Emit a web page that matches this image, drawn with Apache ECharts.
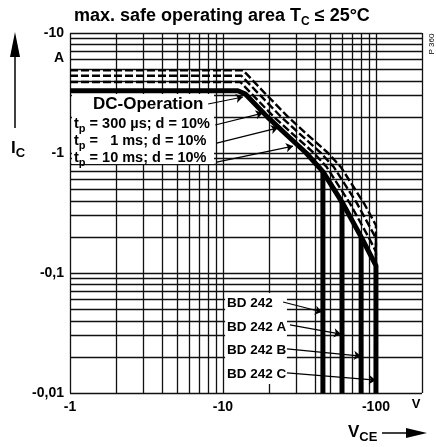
<!DOCTYPE html>
<html><head><meta charset="utf-8">
<script src="https://cdn.jsdelivr.net/npm/echarts@6/dist/echarts.min.js"></script>
<style>html,body{margin:0;padding:0;background:#fff}#c{width:436px;height:447px}</style>
</head><body><div id="c"></div>
<script>
// ---- axis ticks / labels ----
const xTickLabels = {0: '-1', 1: '-10', 2: '-100'};
const yTickLabels = {1: '-10', 0: '-1', '-1': '-0,1', '-2': '-0,01'};
// ---- grid lines (log paper) ----
const xGrid = [1,2,3,4,5,6,7,8,9,10,20,30,40,50,60,70,80,90,100,200];
const yGrid = [0.01,0.02,0.03,0.04,0.05,0.06,0.07,0.08,0.09,0.1,0.2,0.3,0.4,0.5,0.6,0.7,0.8,0.9,1,2,3,4,5,6,7,8,9,10];
// ---- DC operation (thick solid), ends at BD242C limit ----
const dcV = [1, 12.5, 14, 19.5, 26, 35, 45, 60, 80, 100, 100];
const dcI = [3.3, 3.3, 3.1, 2.0, 1.42, 1.0, 0.70, 0.39, 0.2, 0.115, 0.01];
// ---- pulse operation (dashed) ----
const p300V = [1, 13.5, 18.5, 26.6, 35.9, 48.6, 59.1, 83.6, 100, 100];
const p300I = [4.9, 4.9, 3.22, 2.0, 1.41, 1.0, 0.76, 0.38, 0.25, 0.115];
const p1msV = [1, 13.2, 16.7, 24, 32.4, 43.7, 53.2, 75.2, 100, 100];
const p1msI = [4.4, 4.4, 3.22, 2.0, 1.41, 1.0, 0.76, 0.38, 0.195, 0.115];
const p10msV = [1, 13, 15, 21.5, 29.1, 39.3, 47.8, 67.6, 91.2, 100, 100];
const p10msI = [3.9, 3.9, 3.22, 2.0, 1.41, 1.0, 0.76, 0.38, 0.19, 0.15, 0.115];
// ---- VCEO limits of the types (vertical lines) ----
const typeNames = ['BD 242', 'BD 242 A', 'BD 242 B', 'BD 242 C'];
const typeV = [45, 60, 80];
const typeTopI = [0.70, 0.39, 0.2];
const typeBottomI = 0.01;
// ---- legend labels and arrow anchors (data space) ----
const legendNames = ['DC-Operation', 't_p = 300 µs; d = 10%', 't_p =   1 ms; d = 10%', 't_p = 10 ms; d = 10%'];
const legendArrowFrom = [[8.0, 2.56], [8.9, 1.71], [9.1, 1.21], [9.1, 0.84]];
const legendArrowTo = [[13.5, 2.93], [18.2, 2.15], [22.9, 1.62], [28.7, 1.14]];
const typeArrowFrom = [[24.7, 0.0573], [27.4, 0.0369], [26.2, 0.0233], [26.2, 0.0147]];
const typeArrowTo = [[44.4, 0.0473], [59.0, 0.031], [79.8, 0.0203], [100, 0.0128]];
// ---- white label areas (data space corners) ----
const labelAreas = [[[1.03, 3.1], [8.74, 0.81]], [[10.33, 0.0681], [26.2, 0.0119]]];

const FONT = "'Liberation Sans', Arial, sans-serif";
const zip = (a, b) => a.map((v, i) => [v, b[i]]);

const chart = echarts.init(document.getElementById('c'), null, {renderer: 'canvas'});

const series = [];
// grid lines
series.push({
  type: 'line', data: [], z: 1, silent: true,
  markLine: {
    z: 1,
    silent: true, symbol: ['none', 'none'], animation: false,
    label: {show: false},
    lineStyle: {color: '#111', width: 1.3, type: 'solid'},
    emphasis: {disabled: true},
    data: xGrid.map(v => ({xAxis: v})).concat(yGrid.map(v => ({yAxis: v})))
  }
});
// white areas behind the labels
series.push({
  type: 'line', data: [], z: 3, silent: true,
  markArea: {
    z: 3,
    silent: true, animation: false,
    itemStyle: {color: '#fff', opacity: 1, borderWidth: 0},
    label: {show: false},
    emphasis: {disabled: true},
    data: labelAreas.map(a => [{coord: a[0]}, {coord: a[1]}])
  }
});
const dashStyle = {color: '#000', width: 2.4, type: [8, 3], join: 'round'};
[[p300V, p300I], [p1msV, p1msI], [p10msV, p10msI]].forEach(([v, i]) => {
  series.push({type: 'line', data: zip(v, i), showSymbol: false, z: 5, silent: true,
    lineStyle: dashStyle});
});
series.push({type: 'line', data: zip(dcV, dcI), showSymbol: false, z: 6, silent: true,
  lineStyle: {color: '#000', width: 5, join: 'round', cap: 'butt'}});
typeV.forEach((v, k) => {
  series.push({type: 'line', data: [[v, typeTopI[k]], [v, typeBottomI]], showSymbol: false, z: 6, silent: true,
    lineStyle: {color: '#000', width: 5}});
});
// annotation arrows
series.push({
  type: 'line', data: [], z: 7, silent: true,
  markLine: {
    z: 7,
    silent: true, animation: false, symbol: ['none', 'arrow'], symbolSize: 7,
    label: {show: false},
    lineStyle: {color: '#000', width: 1.2, type: 'solid'},
    emphasis: {disabled: true},
    data: legendArrowFrom.map((p, k) => [{coord: p}, {coord: legendArrowTo[k]}])
      .concat(typeArrowFrom.map((p, k) => [{coord: p}, {coord: typeArrowTo[k]}]))
  }
});

function subText(parts, size, subSize, x, y, extra) {
  let t = '';
  parts.forEach(p => { t += p[1] ? '{s|' + p[0] + '}' : '{a|' + p[0] + '}'; });
  return Object.assign({
    type: 'text', x: x, y: y, z: 20,
    style: {
      text: t, fill: '#000', font: 'bold ' + size + 'px ' + FONT, verticalAlign: 'middle',
      rich: {
        a: {fontSize: size, fontFamily: FONT, fontWeight: 'bold', lineHeight: size + 6, verticalAlign: 'middle', fill: '#000'},
        s: {fontSize: subSize, fontFamily: FONT, fontWeight: 'bold', lineHeight: subSize, verticalAlign: 'bottom', fill: '#000'}
      }
    }
  }, extra || {});
}

const graphics = [
  subText([['max. safe operating area T'], ['C', 1], [' ≤ 25°C']], 18, 12, 74, 16),
  subText([['I'], ['C', 1]], 17, 13, 11, 148),
  subText([['V'], ['CE', 1]], 17, 13, 348, 432),
  {type: 'text', x: 64, y: 58, z: 20, style: {text: 'A', font: 'bold 14px ' + FONT, fill: '#000', align: 'right', verticalAlign: 'middle'}},
  {type: 'text', x: 416, y: 404, z: 20, style: {text: 'V', font: 'bold 13px ' + FONT, fill: '#000', align: 'center', verticalAlign: 'middle'}},
  {type: 'text', x: 432, y: 44, z: 20, rotation: Math.PI / 2, style: {text: 'P 360', font: '8px ' + FONT, fill: '#000', align: 'center', verticalAlign: 'middle'}},
  // axis arrows
  {type: 'line', shape: {x1: 15, y1: 55, x2: 15, y2: 128}, style: {stroke: '#000', lineWidth: 1.5}, z: 20},
  {type: 'polygon', shape: {points: [[15, 32], [10, 57], [20, 57]]}, style: {fill: '#000'}, z: 20},
  {type: 'line', shape: {x1: 382, y1: 433, x2: 410, y2: 433}, style: {stroke: '#000', lineWidth: 1.5}, z: 20},
  {type: 'polygon', shape: {points: [[427, 433], [406, 428], [406, 438]]}, style: {fill: '#000'}, z: 20},
  {type: 'text', x: 93, y: 104, z: 20, style: {text: legendNames[0], font: 'bold 17px ' + FONT, fill: '#000', verticalAlign: 'middle'}}
];
[124, 141, 158].forEach((yy, k) => {
  const n = legendNames[k + 1];
  const idx = n.indexOf('_');
  graphics.push(subText([[n.slice(0, idx)], [n[idx + 1], 1], [n.slice(idx + 2)]], 14.5, 11, 74, yy));
});
[303, 327, 350, 374].forEach((yy, k) => {
  graphics.push({type: 'text', x: 227, y: yy, z: 20, style: {text: typeNames[k], font: 'bold 13.5px ' + FONT, fill: '#000', verticalAlign: 'middle'}});
});

chart.setOption({
  animation: false,
  backgroundColor: '#fff',
  grid: {left: 70, right: 14, top: 33, bottom: 54, containLabel: false},
  xAxis: {
    type: 'log', logBase: 10, min: 1, max: 200,
    axisLine: {show: false}, axisTick: {show: false}, splitLine: {show: false},
    axisLabel: {
      margin: 7, color: '#000', fontSize: 14, fontFamily: FONT, fontWeight: 'bold',
      showMaxLabel: false,
      formatter: v => { const e = Math.round(Math.log10(v)); return Math.abs(Math.log10(v) - e) < 1e-6 && xTickLabels[e] ? xTickLabels[e] : ''; }
    }
  },
  yAxis: {
    type: 'log', logBase: 10, min: 0.01, max: 10,
    axisLine: {show: false}, axisTick: {show: false}, splitLine: {show: false},
    axisLabel: {
      margin: 6, color: '#000', fontSize: 14, fontFamily: FONT, fontWeight: 'bold',
      formatter: v => { const e = Math.round(Math.log10(v)); return yTickLabels[e] || ''; }
    }
  },
  series: series,
  graphic: {elements: graphics}
});
</script></body></html>
